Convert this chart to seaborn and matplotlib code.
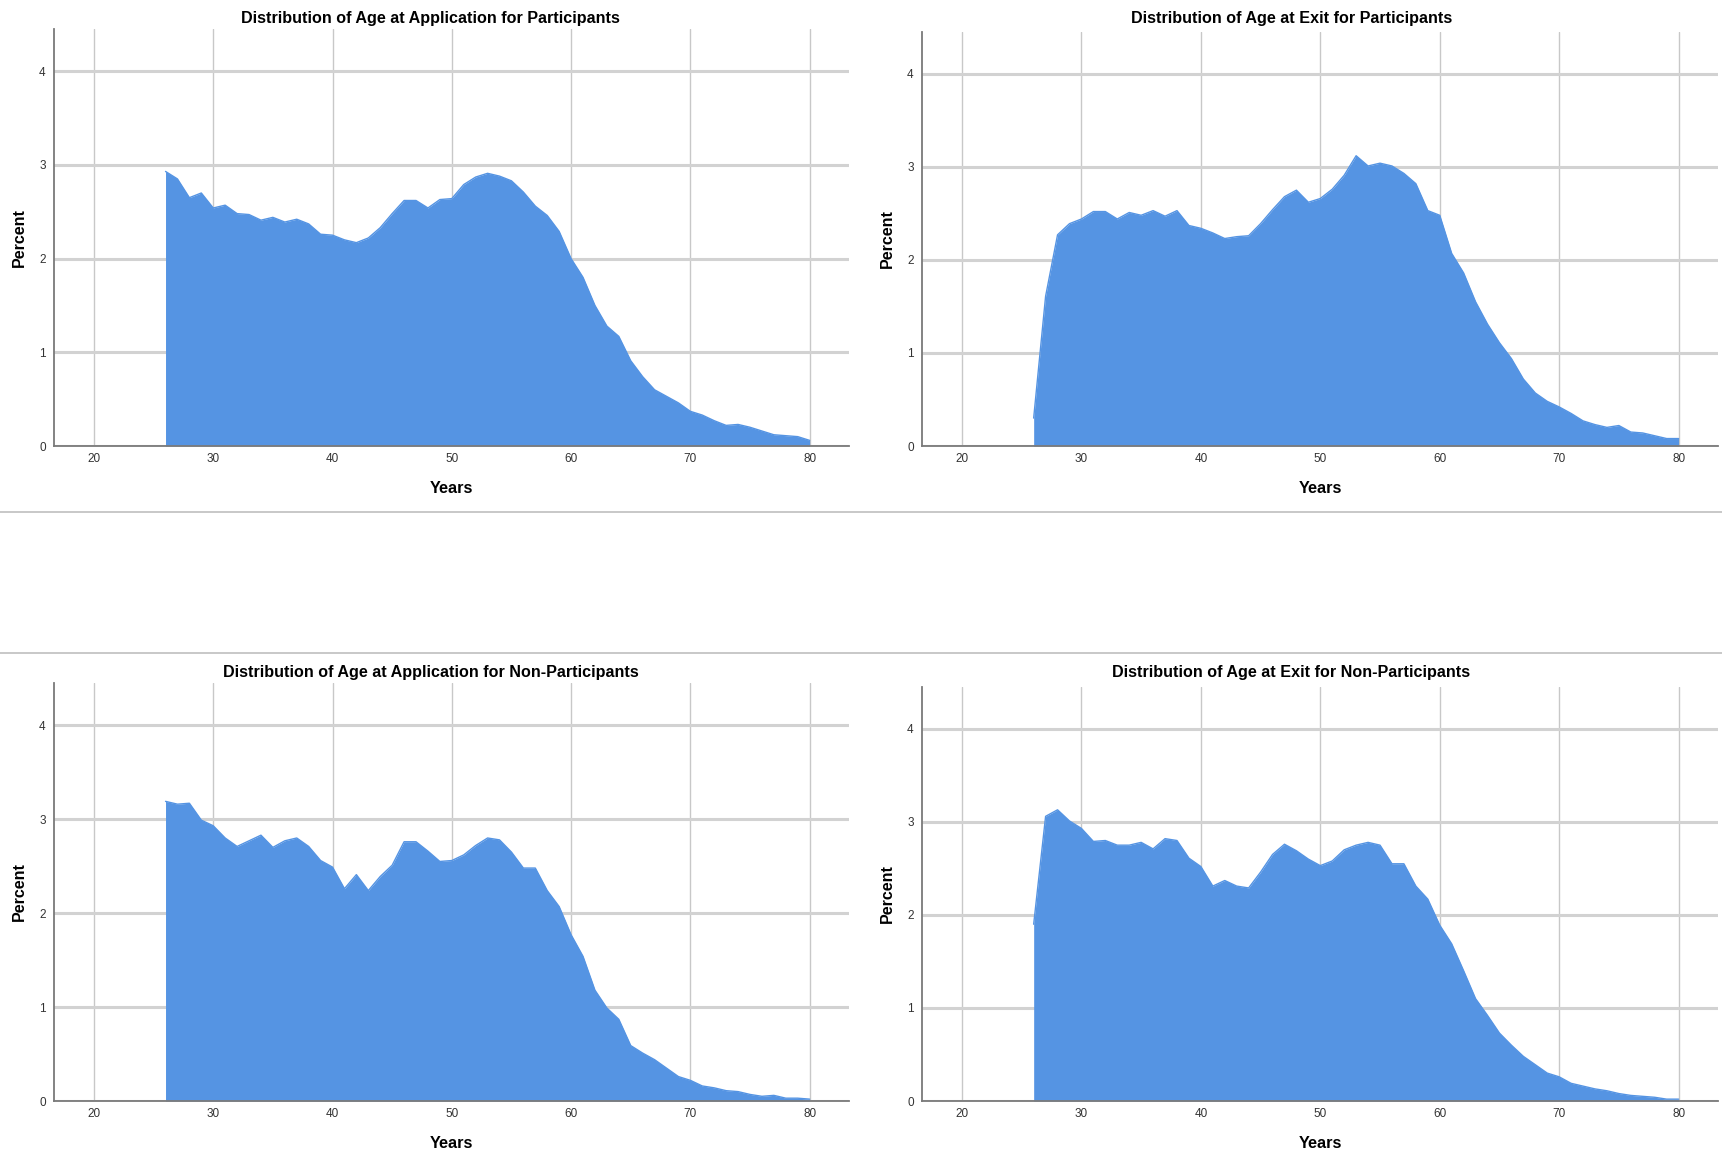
import matplotlib.pyplot as plt
import seaborn as sns
import numpy as np
import pandas as pd
from matplotlib.lines import Line2D

# ages on the x axis, one value per year
ages = list(range(26, 81))

app_part = [2.93, 2.85, 2.65, 2.70, 2.54, 2.57, 2.48, 2.47, 2.41, 2.44,
            2.39, 2.42, 2.37, 2.26, 2.25, 2.20, 2.17, 2.22, 2.33, 2.48,
            2.62, 2.62, 2.54, 2.63, 2.64, 2.79, 2.87, 2.91, 2.88, 2.83,
            2.71, 2.56, 2.46, 2.29, 2.00, 1.80, 1.50, 1.28, 1.17, 0.91,
            0.74, 0.60, 0.53, 0.46, 0.37, 0.33, 0.27, 0.22, 0.23, 0.20,
            0.16, 0.12, 0.11, 0.10, 0.06]

exit_part = [0.30, 1.61, 2.27, 2.39, 2.44, 2.52, 2.52, 2.44, 2.51, 2.48,
             2.53, 2.47, 2.53, 2.37, 2.34, 2.29, 2.23, 2.25, 2.26, 2.39,
             2.54, 2.68, 2.75, 2.62, 2.66, 2.76, 2.91, 3.12, 3.01, 3.04,
             3.01, 2.93, 2.82, 2.53, 2.48, 2.07, 1.86, 1.55, 1.31, 1.11,
             0.94, 0.72, 0.57, 0.48, 0.42, 0.35, 0.27, 0.23, 0.20, 0.22,
             0.15, 0.14, 0.11, 0.08, 0.08]

app_nonpart = [3.19, 3.16, 3.17, 2.99, 2.93, 2.80, 2.71, 2.77, 2.83, 2.70,
               2.77, 2.80, 2.71, 2.56, 2.49, 2.26, 2.41, 2.24, 2.39, 2.51,
               2.76, 2.76, 2.66, 2.55, 2.56, 2.62, 2.72, 2.80, 2.78, 2.65,
               2.48, 2.48, 2.24, 2.07, 1.77, 1.54, 1.18, 0.99, 0.87, 0.59,
               0.51, 0.44, 0.35, 0.26, 0.22, 0.16, 0.14, 0.11, 0.10, 0.07,
               0.05, 0.06, 0.03, 0.03, 0.02]

exit_nonpart = [1.90, 3.06, 3.13, 3.01, 2.93, 2.79, 2.80, 2.75, 2.75, 2.78,
                2.71, 2.82, 2.80, 2.61, 2.52, 2.31, 2.37, 2.31, 2.29, 2.46,
                2.65, 2.76, 2.69, 2.60, 2.53, 2.58, 2.70, 2.75, 2.78, 2.75,
                2.55, 2.55, 2.31, 2.17, 1.89, 1.69, 1.40, 1.10, 0.92, 0.73,
                0.60, 0.48, 0.39, 0.30, 0.26, 0.19, 0.16, 0.13, 0.11, 0.08,
                0.06, 0.05, 0.04, 0.02, 0.02]

titles = ['Distribution of Age at Application for Participants',
          'Distribution of Age at Exit for Participants',
          'Distribution of Age at Application for Non-Participants',
          'Distribution of Age at Exit for Non-Participants']
series = [app_part, exit_part, app_nonpart, exit_nonpart]

x_ticks = [20, 30, 40, 50, 60, 70, 80]
y_ticks = [0, 1, 2, 3, 4]

FILL = '#5594e3'
W, H = 1722, 1154

sns.set_theme(style='white')
plt.rcParams['font.family'] = ['Liberation Sans', 'DejaVu Sans']

fig = plt.figure(figsize=(W / 100, H / 100), dpi=100)

# pixel boxes (left, top, right, bottom) of each panel
boxes = [(54, 29, 849, 446), (922, 32, 1718, 446),
         (54, 683, 849, 1101), (922, 687, 1718, 1101)]
title_pos = [(0.25, 19), (0.75, 19), (0.25, 672), (0.75, 672)]

for i, (vals, title) in enumerate(zip(series, titles)):
    l, t, r, b = boxes[i]
    ax = fig.add_axes([l / W, 1 - b / H, (r - l) / W, (b - t) / H])
    df = pd.DataFrame({'Years': ages, 'Percent': vals})
    ax.fill_between(df['Years'], df['Percent'], color=FILL, lw=0, zorder=2)
    sns.lineplot(data=df, x='Years', y='Percent', ax=ax, color=FILL, lw=1, zorder=3)

    ax.set_xlim(16.65, 83.3)
    ax.set_ylim(0, 4.45)
    ax.set_xticks(x_ticks)
    ax.set_yticks(y_ticks)
    ax.grid(axis='x', color='#c8c8c8', lw=1)
    ax.grid(axis='y', color='#d2d2d2', lw=2.2)
    ax.set_axisbelow(True)
    for s in ['top', 'right']:
        ax.spines[s].set_visible(False)
    for s in ['left', 'bottom']:
        ax.spines[s].set_color('#7a7a7a')
        ax.spines[s].set_linewidth(1.3)
        ax.spines[s].set_zorder(4)
    ax.tick_params(length=0, labelsize=8.5, colors='#333333')
    ax.tick_params(axis='x', pad=5)
    ax.tick_params(axis='y', pad=6)

    ax.set_xlabel('Years', fontsize=11.7, fontweight='bold', color='black')
    ax.xaxis.label.set_verticalalignment('center')
    ax.xaxis.set_label_coords(0.5, -42 / (b - t))
    ax.set_ylabel('Percent', fontsize=11.5, fontweight='bold', color='black')
    ax.yaxis.label.set_verticalalignment('center')
    ax.yaxis.set_label_coords(-0.043, 0.5)

    tx, ty = title_pos[i]
    fig.text(tx, 1 - ty / H, title, ha='center', va='center',
             fontsize=11.6, fontweight='bold', color='black')

# grey separators between the two rows
for yp in [512, 653]:
    fig.add_artist(Line2D([0, 1], [1 - yp / H] * 2, transform=fig.transFigure,
                          color='#c4c4c4', lw=1.3))

fig.savefig('out.png', dpi=100)
